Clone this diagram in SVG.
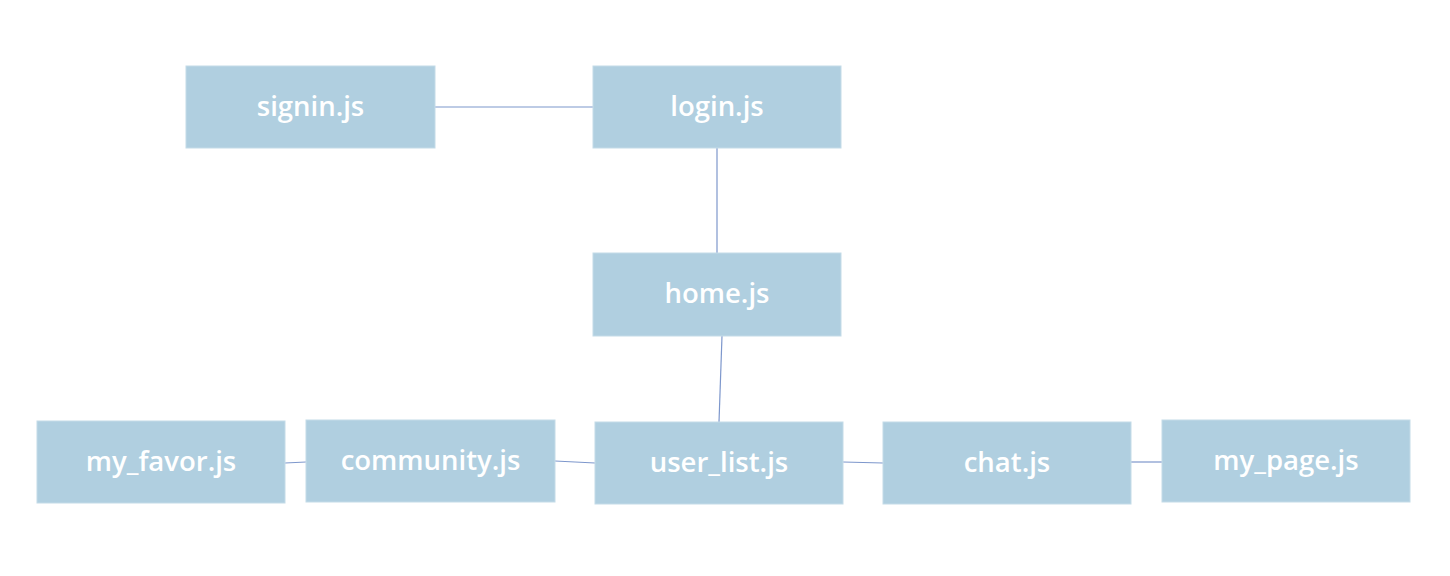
<svg xmlns="http://www.w3.org/2000/svg" width="1450" height="576" viewBox="0 0 1450 576">
<style>
.box{fill:#b0cfe0;stroke:#c4dbe8;stroke-width:1}
.lbl{font-family:"Open Sans","Noto Sans","DejaVu Sans",sans-serif;font-size:27.5px;font-weight:600;fill:#ffffff;text-anchor:middle;dominant-baseline:central}
.con{stroke:#7d97cc;stroke-width:1.2;fill:none}
</style>
<rect width="1450" height="576" fill="#ffffff"/>
<g id="connectors">
<line class="con" x1="435" y1="107" x2="593" y2="107"/>
<line class="con" x1="717" y1="148" x2="717" y2="253"/>
<line class="con" x1="722" y1="336" x2="719" y2="422"/>
<line class="con" x1="285" y1="463" x2="306" y2="462"/>
<line class="con" x1="555" y1="461" x2="595" y2="463"/>
<line class="con" x1="843" y1="462" x2="883" y2="463"/>
<line class="con" x1="1131" y1="462" x2="1162" y2="462"/>
</g>
<g id="signin"><rect class="box" x="186" y="66" width="249" height="82"/><text class="lbl" x="310.5" y="105">signin.js</text></g>
<g id="login"><rect class="box" x="593" y="66" width="248" height="82"/><text class="lbl" x="717" y="105">login.js</text></g>
<g id="home"><rect class="box" x="593" y="253" width="248" height="83"/><text class="lbl" x="717" y="292">home.js</text></g>
<g id="my_favor"><rect class="box" x="37" y="421" width="248" height="82"/><text class="lbl" x="161" y="460">my_favor.js</text></g>
<g id="community"><rect class="box" x="306" y="420" width="249" height="82"/><text class="lbl" x="430.5" y="459">community.js</text></g>
<g id="user_list"><rect class="box" x="595" y="422" width="248" height="82"/><text class="lbl" x="719" y="461">user_list.js</text></g>
<g id="chat"><rect class="box" x="883" y="422" width="248" height="82"/><text class="lbl" x="1007" y="461">chat.js</text></g>
<g id="my_page"><rect class="box" x="1162" y="420" width="248" height="82"/><text class="lbl" x="1286" y="459">my_page.js</text></g>
</svg>
